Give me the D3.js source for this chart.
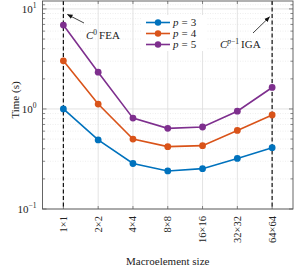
<!DOCTYPE html>
<html>
<head>
<meta charset="utf-8">
<script src="https://cdn.jsdelivr.net/npm/d3@7"></script>
<style>
  body { margin: 0; background: #fff; }
  svg { display: block; }
  text { font-family: "Liberation Serif", "Times New Roman", serif; }
</style>
</head>
<body>
<svg id="plot"></svg>
<script>
const sizes = ["1×1", "2×2", "4×4", "8×8", "16×16", "32×32", "64×64"];
const p3 = [1.0, 0.49, 0.285, 0.24, 0.253, 0.32, 0.41];
const p4 = [3.03, 1.12, 0.50, 0.42, 0.43, 0.61, 0.87];
const p5 = [6.9, 2.33, 0.81, 0.64, 0.66, 0.95, 1.64];
const seriesNames = ["3", "4", "5"];
const yTicks = [0.1, 1, 10];

const series = [
  { name: seriesNames[0], values: p3, color: "#0072BD" },
  { name: seriesNames[1], values: p4, color: "#D95319" },
  { name: seriesNames[2], values: p5, color: "#7E2F8E" }
];

const W = 294, H = 268;
const pLeft = 42.5, pRight = 293, pTop = 1, pBottom = 209;

const svg = d3.select("#plot").attr("width", W).attr("height", H)
  .attr("font-family", "Liberation Serif, Times New Roman, serif");

const x = d3.scalePoint()
  .domain(sizes)
  .range([pLeft, pRight])
  .padding(0.6);

const y = d3.scaleLog()
  .domain([0.1, 12])
  .range([pBottom, pTop]);

// minor grid
const minor = [];
[0.1, 1].forEach(d => { for (let k = 2; k <= 9; k++) minor.push(d * k); });
minor.push(11);
svg.append("g")
  .selectAll("line")
  .data(minor)
  .enter().append("line")
    .attr("x1", pLeft).attr("x2", pRight)
    .attr("y1", d => y(d)).attr("y2", d => y(d))
    .attr("stroke", "#e2e2e2")
    .attr("stroke-width", 0.6)
    .attr("stroke-dasharray", "1,1.5");

// major grid
svg.append("g")
  .selectAll("line")
  .data(yTicks)
  .enter().append("line")
    .attr("x1", pLeft).attr("x2", pRight)
    .attr("y1", d => y(d)).attr("y2", d => y(d))
    .attr("stroke", "#dcdcdc")
    .attr("stroke-width", 0.8);

svg.append("g")
  .selectAll("line")
  .data(sizes)
  .enter().append("line")
    .attr("x1", d => x(d)).attr("x2", d => x(d))
    .attr("y1", pTop).attr("y2", pBottom)
    .attr("stroke", "#dcdcdc")
    .attr("stroke-width", 0.8);

// frame ticks (inside)
const tickG = svg.append("g").attr("stroke", "#555").attr("stroke-width", 0.7);
yTicks.forEach(v => {
  tickG.append("line").attr("x1", pLeft).attr("x2", pLeft + 4).attr("y1", y(v)).attr("y2", y(v));
  tickG.append("line").attr("x1", pRight).attr("x2", pRight - 4).attr("y1", y(v)).attr("y2", y(v));
});
minor.forEach(v => {
  tickG.append("line").attr("x1", pLeft).attr("x2", pLeft + 2.5).attr("y1", y(v)).attr("y2", y(v));
  tickG.append("line").attr("x1", pRight).attr("x2", pRight - 2.5).attr("y1", y(v)).attr("y2", y(v));
});
sizes.forEach(s => {
  tickG.append("line").attr("x1", x(s)).attr("x2", x(s)).attr("y1", pBottom).attr("y2", pBottom - 3);
  tickG.append("line").attr("x1", x(s)).attr("x2", x(s)).attr("y1", pTop).attr("y2", pTop + 3);
});

// dashed markers
[sizes[0], sizes[sizes.length - 1]].forEach(s => {
  svg.append("line")
    .attr("x1", x(s)).attr("x2", x(s))
    .attr("y1", pTop).attr("y2", pBottom)
    .attr("stroke", "#111")
    .attr("stroke-width", 1.2)
    .attr("stroke-dasharray", "4,2.5");
});

// lines + markers
const line = d3.line()
  .x((d, i) => x(sizes[i]))
  .y(d => y(d));

series.forEach(s => {
  svg.append("path")
    .datum(s.values)
    .attr("fill", "none")
    .attr("stroke", s.color)
    .attr("stroke-width", 1.6)
    .attr("d", line);
  svg.append("g")
    .selectAll("circle")
    .data(s.values)
    .enter().append("circle")
      .attr("cx", (d, i) => x(sizes[i]))
      .attr("cy", d => y(d))
      .attr("r", 3.4)
      .attr("fill", s.color);
});

// frame
svg.append("rect")
  .attr("x", pLeft).attr("y", pTop)
  .attr("width", pRight - pLeft).attr("height", pBottom - pTop)
  .attr("fill", "none")
  .attr("stroke", "#555")
  .attr("stroke-width", 0.9);

// y tick labels
yTicks.forEach(v => {
  const t = svg.append("text")
    .attr("x", pLeft - 6)
    .attr("y", y(v) + 4)
    .attr("text-anchor", "end")
    .attr("font-size", 11)
    .attr("fill", "#222");
  t.append("tspan").text("10");
  t.append("tspan").attr("font-size", 7.5).attr("dy", -5).text(Math.round(Math.log10(v)) < 0 ? "−1" : Math.round(Math.log10(v)));
});

// x tick labels
sizes.forEach(s => {
  svg.append("text")
    .attr("transform", `translate(${x(s) + 3.5},${pBottom + 7}) rotate(-90)`)
    .attr("text-anchor", "end")
    .attr("font-size", 10.5)
    .attr("fill", "#222")
    .text(s);
});

// axis labels
svg.append("text")
  .attr("x", (pLeft + pRight) / 2)
  .attr("y", 265)
  .attr("text-anchor", "middle")
  .attr("font-size", 11)
  .attr("fill", "#222")
  .text("Macroelement size");

svg.append("text")
  .attr("transform", `translate(19,${(pTop + pBottom) / 2 - 5}) rotate(-90)`)
  .attr("text-anchor", "middle")
  .attr("font-size", 11)
  .attr("fill", "#222")
  .text("Time (s)");

// legend
const lg = svg.append("g");
lg.append("rect")
  .attr("x", 141).attr("y", 15).attr("width", 66).attr("height", 36)
  .attr("fill", "#fff");
series.forEach((s, i) => {
  const yy = 22.5 + i * 11;
  lg.append("line")
    .attr("x1", 146).attr("x2", 170).attr("y1", yy).attr("y2", yy)
    .attr("stroke", s.color).attr("stroke-width", 1.6);
  lg.append("circle").attr("cx", 158).attr("cy", yy).attr("r", 3.2).attr("fill", s.color);
  const t = lg.append("text")
    .attr("x", 173).attr("y", yy + 3.5)
    .attr("font-size", 11)
    .attr("fill", "#222");
  t.append("tspan").attr("font-style", "italic").text("p");
  t.append("tspan").attr("dx", 3).text("=");
  t.append("tspan").attr("dx", 3).text(s.name);
});

// annotations
svg.append("defs").append("marker")
  .attr("id", "arr")
  .attr("viewBox", "0 0 10 10")
  .attr("refX", 9).attr("refY", 5)
  .attr("markerWidth", 7).attr("markerHeight", 7)
  .attr("orient", "auto")
  .append("path")
    .attr("d", "M0,1 L10,5 L0,9 Z")
    .attr("fill", "#111");

svg.append("line")
  .attr("x1", 84).attr("y1", 23).attr("x2", 67.5).attr("y2", 14.5)
  .attr("stroke", "#111").attr("stroke-width", 0.8)
  .attr("marker-end", "url(#arr)");

const t1 = svg.append("text").attr("x", 86).attr("y", 39).attr("font-size", 11).attr("fill", "#222");
t1.append("tspan").attr("font-style", "italic").text("C");
t1.append("tspan").attr("font-size", 7.5).attr("dy", -4.5).text("0");
t1.append("tspan").attr("dy", 4.5).attr("dx", 2).text("FEA");

svg.append("line")
  .attr("x1", 253).attr("y1", 33).attr("x2", 269.5).attr("y2", 17)
  .attr("stroke", "#111").attr("stroke-width", 0.8)
  .attr("marker-end", "url(#arr)");

const t2 = svg.append("text").attr("x", 220).attr("y", 48).attr("font-size", 11).attr("fill", "#222");
t2.append("tspan").attr("font-style", "italic").text("C");
t2.append("tspan").attr("font-size", 7.5).attr("dy", -4.5).attr("font-style", "italic").text("p");
t2.append("tspan").attr("font-size", 7.5).text("−1");
t2.append("tspan").attr("dy", 4.5).attr("dx", 2).text("IGA");
</script>
</body>
</html>
